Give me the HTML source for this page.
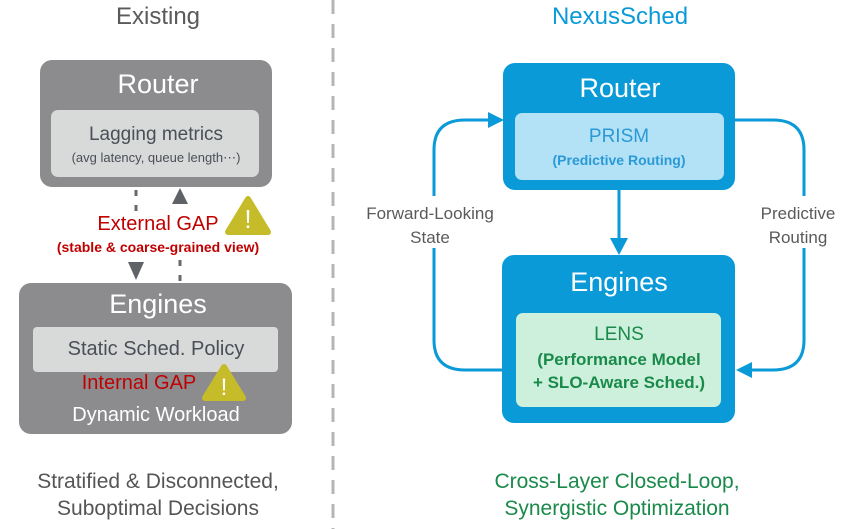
<!DOCTYPE html>
<html><head><style>
body{margin:0;width:848px;height:529px;background:#fff;position:relative;overflow:hidden;font-family:"Liberation Sans",sans-serif}
.a{position:absolute;text-align:center;box-sizing:border-box}
.t{position:absolute;white-space:nowrap;transform:translateX(-50%)}
</style></head><body>
<svg width="848" height="529" style="position:absolute;left:0;top:0">
<line x1="333" y1="0" x2="333" y2="529" stroke="#b5b5b5" stroke-width="3" stroke-dasharray="14,10"/>
<line x1="136" y1="190" x2="136" y2="214" stroke="#6a6a6a" stroke-width="3" stroke-dasharray="6,9"/>
<polygon points="128,262 144,262 136,280" fill="#5f6368"/>
<line x1="180" y1="281" x2="180" y2="250" stroke="#6a6a6a" stroke-width="3" stroke-dasharray="6,9"/>
<polygon points="172,204 188,204 180,188" fill="#5f6368"/>
<path d="M503,370 L465,370 Q434,370 434,340 L434,150 Q434,120 465,120 L490,120" fill="none" stroke="#0a9ad8" stroke-width="3"/>
<polygon points="488,112 504,120 488,128" fill="#0a9ad8"/>
<path d="M735,120 L773,120 Q804,120 804,150 L804,340 Q804,370 773,370 L752,370" fill="none" stroke="#0a9ad8" stroke-width="3"/>
<polygon points="752,362 736,370 752,378" fill="#0a9ad8"/>
<rect x="350" y="196" width="160" height="52" fill="#fff"/>
<rect x="745" y="196" width="100" height="52" fill="#fff"/>
<line x1="619" y1="190" x2="619" y2="240" stroke="#0a9ad8" stroke-width="3"/>
<polygon points="610,238 628,238 619,255" fill="#0a9ad8"/>
</svg>
<div class="t" style="left:158px;top:3px;font-size:24px;color:#5a5a5a">Existing</div>
<div class="t" style="left:620px;top:3px;font-size:24px;color:#0a9ad8">NexusSched</div>

<div class="a" style="left:40px;top:60px;width:232px;height:127px;background:#8c8c8e;border-radius:12px"></div>
<div class="t" style="left:158px;top:69px;font-size:27px;color:#fff">Router</div>
<div class="a" style="left:51px;top:110px;width:208px;height:67px;background:#d8d9d9;border-radius:7px"></div>
<div class="t" style="left:156px;top:124px;font-size:19px;color:#4a4f57">Lagging metrics</div>
<div class="t" style="left:156px;top:150px;font-size:13px;color:#4a4f57">(avg latency, queue length⋯)</div>
<div class="t" style="left:158px;top:213px;font-size:20px;color:#c00000;background:#fff">External GAP</div>
<div class="t" style="left:158px;top:239px;font-size:14px;color:#c00000;font-weight:bold;background:#fff">(stable &amp; coarse-grained view)</div>

<div class="a" style="left:19px;top:283px;width:273px;height:151px;background:#8c8c8e;border-radius:12px"></div>
<div class="t" style="left:158px;top:289px;font-size:27px;color:#fff">Engines</div>
<div class="a" style="left:33px;top:327px;width:245px;height:45px;background:#d8d9d9;border-radius:4px"></div>
<div class="t" style="left:156px;top:338px;font-size:20px;color:#4a4f57">Static Sched. Policy</div>
<div class="t" style="left:139px;top:372px;font-size:20px;color:#c00000">Internal GAP</div>
<div class="t" style="left:156px;top:404px;font-size:20px;color:#fff">Dynamic Workload</div>

<div class="a" style="left:503px;top:63px;width:232px;height:127px;background:#0a9ad8;border-radius:12px"></div>
<div class="t" style="left:620px;top:73px;font-size:27px;color:#fff">Router</div>
<div class="a" style="left:515px;top:113px;width:209px;height:67px;background:#b3e1f6;border-radius:7px"></div>
<div class="t" style="left:619px;top:126px;font-size:19px;color:#2a9ad6">PRISM</div>
<div class="t" style="left:619px;top:152px;font-size:14px;color:#2a9ad6;font-weight:bold">(Predictive Routing)</div>

<div class="a" style="left:502px;top:255px;width:233px;height:168px;background:#0a9ad8;border-radius:12px"></div>
<div class="t" style="left:619px;top:267px;font-size:27px;color:#fff">Engines</div>
<div class="a" style="left:516px;top:313px;width:205px;height:94px;background:#cdf0dd;border-radius:7px"></div>
<div class="t" style="left:619px;top:324px;font-size:19px;color:#1a8a4a">LENS</div>
<div class="t" style="left:619px;top:350px;font-size:17px;color:#1a8a4a;font-weight:bold">(Performance Model</div>
<div class="t" style="left:619px;top:373px;font-size:17px;color:#1a8a4a;font-weight:bold">+ SLO-Aware Sched.)</div>

<div class="t" style="left:430px;top:202px;font-size:17px;color:#5a5a5a;text-align:center;line-height:24px">Forward-Looking<br>State</div>
<div class="t" style="left:798px;top:202px;font-size:17px;color:#5a5a5a;text-align:center;line-height:24px">Predictive<br>Routing</div>

<div class="t" style="left:158px;top:468px;font-size:21px;color:#555;text-align:center;line-height:27px">Stratified &amp; Disconnected,<br>Suboptimal Decisions</div>
<div class="t" style="left:617px;top:468px;font-size:21px;color:#1a8a4a;text-align:center;line-height:27px">Cross-Layer Closed-Loop,<br>Synergistic Optimization</div>

<svg width="848" height="529" style="position:absolute;left:0;top:0">
<path d="M248,199 L268,232 L228,232 Z" fill="#c6bc2a" stroke="#c6bc2a" stroke-width="6" stroke-linejoin="round"/>
<text x="248" y="228" font-size="26" fill="#fff" text-anchor="middle" font-family="Liberation Sans">!</text>
<path d="M224,367 L243,398 L205,398 Z" fill="#c6bc2a" stroke="#c6bc2a" stroke-width="6" stroke-linejoin="round"/>
<text x="224" y="395" font-size="24" fill="#fff" text-anchor="middle" font-family="Liberation Sans">!</text>
</svg>
</body></html>
